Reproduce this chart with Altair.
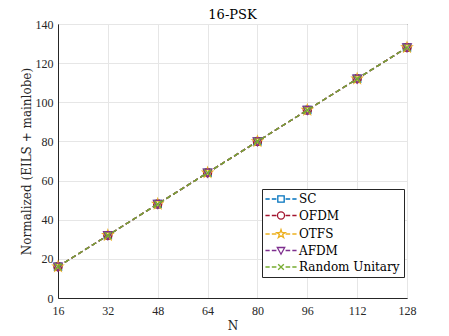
import altair as alt
import pandas as pd

N_vals = [16, 32, 48, 64, 80, 96, 112, 128]
series = ["SC", "OFDM", "OTFS", "AFDM", "Random Unitary"]
sc = [16, 32, 48, 64, 80, 96, 112, 128]
ofdm = [16, 32, 48, 64, 80, 96, 112, 128]
otfs = [16, 32, 48, 64, 80, 96, 112, 128]
afdm = [16, 32, 48, 64, 80, 96, 112, 128]
ru = [16, 32, 48, 64, 80, 96, 112, 128]
colors = ["#0072BD", "#A2142F", "#EDB120", "#7E2F8E", "#77AC30"]

rows = []
for name, vals in zip(series, [sc, ofdm, otfs, afdm, ru]):
    for n, v in zip(N_vals, vals):
        rows.append({"N": n, "value": v, "scheme": name})
df = pd.DataFrame(rows)

# marker shapes (unit coords)
sq = "M-0.8,-0.8H0.8V0.8H-0.8Z"
ci = "M-0.9,0A0.9,0.9 0 1,1 0.9,0A0.9,0.9 0 1,1 -0.9,0Z"
st = ("M0,-1.15L0.26,-0.36L1.09,-0.36L0.42,0.14L0.68,0.93L0,0.44L-0.68,0.93"
      "L-0.42,0.14L-1.09,-0.36L-0.26,-0.36Z")
tr = "M-0.95,-0.8L0.95,-0.8L0,0.95Z"
xx = "M-0.75,-0.75L0.75,0.75M-0.75,0.75L0.75,-0.75"
plot_shapes = [sq, ci, st, tr, xx]

dash = "M-4.4,0H-3.2M-2.6,0H-1.3M1.3,0H2.6M3.2,0H4.4"
leg_shapes = [dash + s for s in [
    "M-0.9,-0.9H0.9V0.9H-0.9Z",
    "M-1,0A1,1 0 1,1 1,0A1,1 0 1,1 -1,0Z",
    "M0,-1.25L0.29,-0.4L1.19,-0.4L0.46,0.15L0.74,1.01L0,0.48L-0.74,1.01L-0.46,0.15L-1.19,-0.4L-0.29,-0.4Z",
    "M-1.05,-0.85L1.05,-0.85L0,1.05Z",
    "M-0.8,-0.8L0.8,0.8M-0.8,0.8L0.8,-0.8",
]]

FONT = "DejaVu Serif"
NUMFONT = "Liberation Serif"

xenc = alt.X("N:Q", scale=alt.Scale(domain=[16, 128], nice=False),
             axis=alt.Axis(values=N_vals, title="N"))
yenc = alt.Y("value:Q", scale=alt.Scale(domain=[0, 140], nice=False),
             axis=alt.Axis(values=list(range(0, 141, 20)),
                           title="Normalized (EILS + mainlobe)"))
cscale = alt.Scale(domain=series, range=colors)

base = alt.Chart(df)
layers = []
for s in series:
    b = base.transform_filter(alt.datum.scheme == s)
    layers.append(b.mark_line(strokeDash=[5, 3], strokeWidth=1.4).encode(
        x=xenc, y=yenc, color=alt.Color("scheme:N", scale=cscale, legend=None)))
    layers.append(b.mark_point(filled=False, size=81, strokeWidth=1.3, opacity=1).encode(
        x=xenc, y=yenc,
        color=alt.Color("scheme:N", scale=cscale, legend=None),
        shape=alt.Shape("scheme:N", scale=alt.Scale(domain=series, range=plot_shapes), legend=None)))
plot = alt.layer(*layers)

leg_kw = dict(
    title=None, orient="none", legendX=204, legendY=165,
    symbolSize=50, symbolStrokeWidth=1.3, symbolOpacity=1,
    symbolOffset=9, labelOffset=12, padding=4,
    labelFont=FONT, labelFontSize=12, labelColor="#000000",
    strokeColor="#262626", fillColor="#ffffff", rowPadding=3.5, labelLimit=200)

legend_layer = base.mark_point(filled=False, opacity=0, size=1).encode(
    x=xenc, y=yenc,
    color=alt.Color("scheme:N", scale=cscale, legend=alt.Legend(**leg_kw)),
    shape=alt.Shape("scheme:N", scale=alt.Scale(domain=series, range=leg_shapes),
                    legend=alt.Legend(**leg_kw)),
)

chart = alt.layer(plot, legend_layer).resolve_scale(
    color="independent", shape="independent"
).properties(
    width=349, height=274,
    title=alt.TitleParams("16-PSK", font=FONT, fontSize=13, fontWeight="normal",
                          color="#000000", offset=6, anchor="middle",
                          frame="group", baseline="bottom", dy=23),
    autosize=alt.AutoSizeParams(type="none"),
    padding={"left": 50, "top": 16, "right": 34, "bottom": 37},
).configure_view(
    stroke="#262626", strokeWidth=1
).configure_axis(
    grid=True, gridColor="#e6e6e6", gridWidth=1,
    domainColor="#262626", domainWidth=1, ticks=False, labelFlush=False,
    labelFont=NUMFONT, labelFontSize=12, labelColor="#262626",
    titleFont=FONT, titleFontSize=12, titleFontWeight="normal", titleColor="#262626",
).configure_axisX(
    labelPadding=7, titlePadding=4
).configure_axisY(
    labelPadding=5, titlePadding=2
)

chart.save("out.html", embed_options={"renderer": "svg", "actions": False})
